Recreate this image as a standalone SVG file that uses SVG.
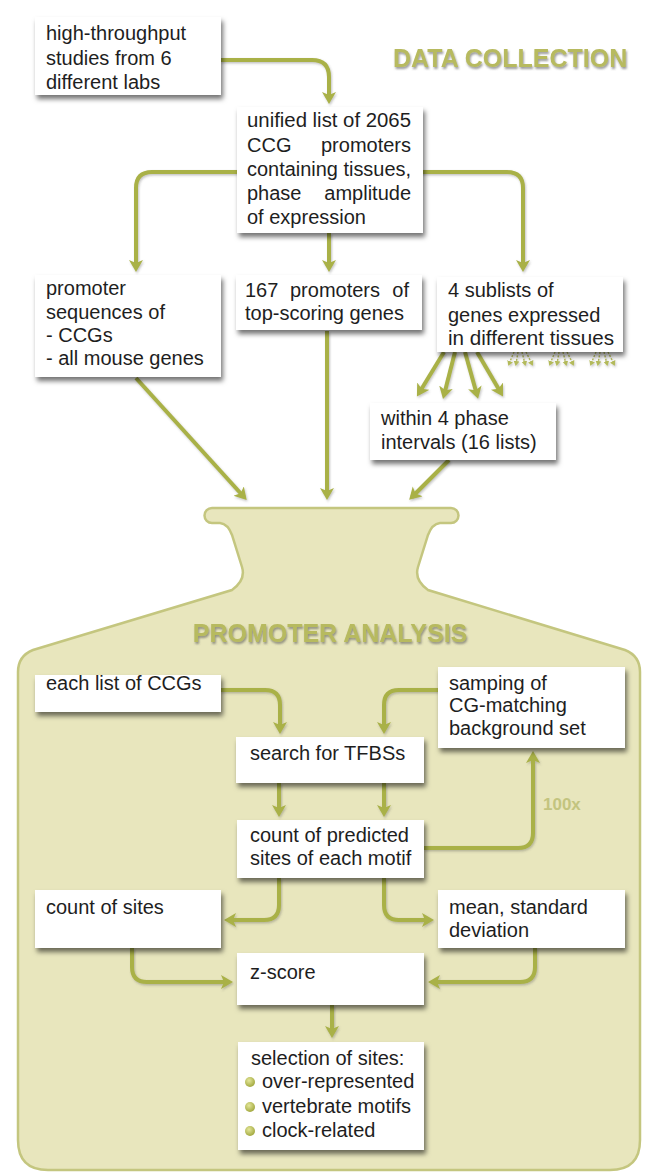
<svg xmlns="http://www.w3.org/2000/svg" width="645" height="1174" viewBox="0 0 645 1174">
<defs>
<style>
.box{fill:#ffffff;filter:url(#sh)}
.t{font-family:"Liberation Sans",Arial,sans-serif;font-size:20px;fill:#1e1e1e}
.e{text-anchor:end}
.m{text-anchor:middle}
.hd{font-family:"Liberation Sans",Arial,sans-serif;font-size:25px;font-weight:bold;fill:#b7ba5e;filter:url(#tsh)}
.lbl{font-family:"Liberation Sans",Arial,sans-serif;font-size:17px;font-weight:bold;fill:#c3c47f}
.c{fill:none;stroke:#a9b147;stroke-width:4;marker-end:url(#ah)}
.f{fill:none;stroke:#b3ba5a;stroke-width:1.4;stroke-dasharray:2 1.5;marker-end:url(#ahs)}
.bul{fill:url(#bg)}
</style>
<filter id="sh" x="-10%" y="-10%" width="125%" height="135%">
<feDropShadow dx="2" dy="4" stdDeviation="2.5" flood-color="#000" flood-opacity="0.55"/>
</filter>
<filter id="tsh" x="-5%" y="-20%" width="110%" height="160%">
<feDropShadow dx="1" dy="2" stdDeviation="1.2" flood-color="#555" flood-opacity="0.6"/>
</filter>
<filter id="csh" x="-20%" y="-20%" width="140%" height="140%">
<feDropShadow dx="1" dy="1.5" stdDeviation="1" flood-color="#555" flood-opacity="0.35"/>
</filter>
<radialGradient id="bg" cx="40%" cy="35%" r="65%">
<stop offset="0" stop-color="#e4e79a"/>
<stop offset="1" stop-color="#a3a940"/>
</radialGradient>
<marker id="ah" markerUnits="userSpaceOnUse" markerWidth="16" markerHeight="16" refX="8" refY="7" orient="auto">
<path d="M0,0 L12,7 L0,14 L3,7 Z" fill="#a9b147"/>
</marker>
<marker id="ahs" markerUnits="userSpaceOnUse" markerWidth="8" markerHeight="8" refX="3" refY="3" orient="auto">
<path d="M0,0 L5,3 L0,6 Z" fill="#b3ba5a"/>
</marker>
</defs>

<rect width="645" height="1174" fill="#ffffff"/>

<g id="flask">
<path d="M212,508 L451,508 A7.5,7.5 0 0 1 451,523 L440,523 Q432,524 428,535 L418,567 Q414,580 428,590 L625,650 Q640,656 640,672 L640,1140 Q640,1170 610,1170 L48,1170 Q18,1170 18,1140 L18,672 Q18,656 33,650 L232,590 Q246,580 242,567 L232,535 Q228,524 220,523 L212,523 A7.5,7.5 0 0 1 212,508 Z" fill="#e8e6bd" stroke="#c4c67f" stroke-width="2.5"/>
</g>

<g id="titles">
<text class="hd" x="393" y="67">DATA COLLECTION</text>
<text class="hd" x="330" y="642" text-anchor="middle">PROMOTER ANALYSIS</text>
<text class="lbl" x="543" y="810">100x</text>
</g>

<g id="connectors" filter="url(#csh)">
<path class="c" d="M220,60 H312 Q329,60 329,77 V100"/>
<path class="c" d="M239,172 H152 Q136,172 136,188 V268"/>
<path class="c" d="M420,172 H507 Q523,172 523,188 V268"/>
<path class="c" d="M329,233 V268"/>
<path class="c" d="M444,352 L419,393"/>
<path class="c" d="M455,352 L444,395"/>
<path class="c" d="M465,352 L477,395"/>
<path class="c" d="M477,352 L501,393"/>
<path class="c" d="M136,378 L244,497"/>
<path class="c" d="M327,331 V496"/>
<path class="c" d="M449,460 L412,497"/>
<path class="f" d="M514,352 L509,364"/>
<path class="f" d="M518,352 L516,364"/>
<path class="f" d="M522,352 L525,364"/>
<path class="f" d="M526,352 L532,364"/>
<path class="f" d="M555,352 L550,364"/>
<path class="f" d="M559,352 L557,364"/>
<path class="f" d="M563,352 L566,364"/>
<path class="f" d="M567,352 L573,364"/>
<path class="f" d="M596,352 L591,364"/>
<path class="f" d="M600,352 L598,364"/>
<path class="f" d="M604,352 L607,364"/>
<path class="f" d="M608,352 L614,364"/>
<path class="c" d="M220,690 H265 Q280,690 280,705 V730"/>
<path class="c" d="M438,690 H399 Q384,690 384,705 V730"/>
<path class="c" d="M279,783 V813"/>
<path class="c" d="M384,783 V813"/>
<path class="c" d="M424,848 H518 Q533,848 533,833 V755"/>
<path class="c" d="M279,878 V905 Q279,920 264,920 H228"/>
<path class="c" d="M384,878 V905 Q384,920 399,920 H430"/>
<path class="c" d="M132,948 V967 Q132,982 147,982 H229"/>
<path class="c" d="M535,948 V967 Q535,982 520,982 H432"/>
<path class="c" d="M332,1005 V1034"/>
</g>

<g id="n1"><rect class="box" x="35" y="17" width="186" height="78"/>
<text class="t" x="46" y="40">high-throughput</text>
<text class="t" x="46" y="65">studies from 6</text>
<text class="t" x="46" y="89">different labs</text></g>

<g id="n2"><rect class="box" x="237" y="107" width="186" height="126"/>
<text class="t" x="247" y="127" textLength="164" lengthAdjust="spacingAndGlyphs">unified list of 2065</text>
<text class="t" x="247" y="152">CCG</text><text class="t e" x="411" y="152">promoters</text>
<text class="t" x="247" y="176" textLength="164" lengthAdjust="spacingAndGlyphs">containing tissues,</text>
<text class="t" x="247" y="200">phase</text><text class="t e" x="411" y="200">amplitude</text>
<text class="t" x="247" y="224">of expression</text></g>

<g id="n3"><rect class="box" x="35" y="275" width="186" height="102"/>
<text class="t" x="46" y="295">promoter</text>
<text class="t" x="46" y="319">sequences of</text>
<text class="t" x="46" y="342">- CCGs</text>
<text class="t" x="46" y="365">- all mouse genes</text></g>

<g id="n4"><rect class="box" x="236" y="275" width="186" height="55"/>
<text class="t" x="245" y="297">167</text><text class="t m" x="335" y="297">promoters</text><text class="t e" x="409" y="297">of</text>
<text class="t" x="245" y="320">top-scoring genes</text></g>

<g id="n5"><rect class="box" x="437" y="277" width="186" height="75"/>
<text class="t" x="448" y="297">4 sublists of</text>
<text class="t" x="448" y="322">genes expressed</text>
<text class="t" x="448" y="345" textLength="166" lengthAdjust="spacingAndGlyphs">in different tissues</text></g>

<g id="n6"><rect class="box" x="370" y="403" width="186" height="57"/>
<text class="t" x="381" y="425">within 4 phase</text>
<text class="t" x="381" y="449">intervals (16 lists)</text></g>

<g id="n7"><rect class="box" x="35" y="675" width="186" height="37"/>
<text class="t" x="46" y="690">each list of CCGs</text></g>

<g id="n8"><rect class="box" x="438" y="667" width="187" height="81"/>
<text class="t" x="449" y="690">samping of</text>
<text class="t" x="449" y="712">CG-matching</text>
<text class="t" x="449" y="735">background set</text></g>

<g id="n9"><rect class="box" x="236" y="737" width="188" height="46"/>
<text class="t" x="250" y="760">search for TFBSs</text></g>

<g id="n10"><rect class="box" x="237" y="820" width="187" height="58"/>
<text class="t" x="250" y="842">count of predicted</text>
<text class="t" x="250" y="865">sites of each motif</text></g>

<g id="n11"><rect class="box" x="35" y="890" width="186" height="58"/>
<text class="t" x="46" y="914">count of sites</text></g>

<g id="n12"><rect class="box" x="438" y="890" width="187" height="58"/>
<text class="t" x="449" y="914">mean, standard</text>
<text class="t" x="449" y="937">deviation</text></g>

<g id="n13"><rect class="box" x="237" y="953" width="187" height="52"/>
<text class="t" x="250" y="979">z-score</text></g>

<g id="n14"><rect class="box" x="238" y="1042" width="186" height="108"/>
<text class="t" x="251" y="1065">selection of sites:</text>
<circle class="bul" cx="250" cy="1082" r="5"/>
<text class="t" x="262" y="1088">over-represented</text>
<circle class="bul" cx="250" cy="1107" r="5"/>
<text class="t" x="262" y="1113">vertebrate motifs</text>
<circle class="bul" cx="250" cy="1131" r="5"/>
<text class="t" x="262" y="1137">clock-related</text></g>
</svg>
